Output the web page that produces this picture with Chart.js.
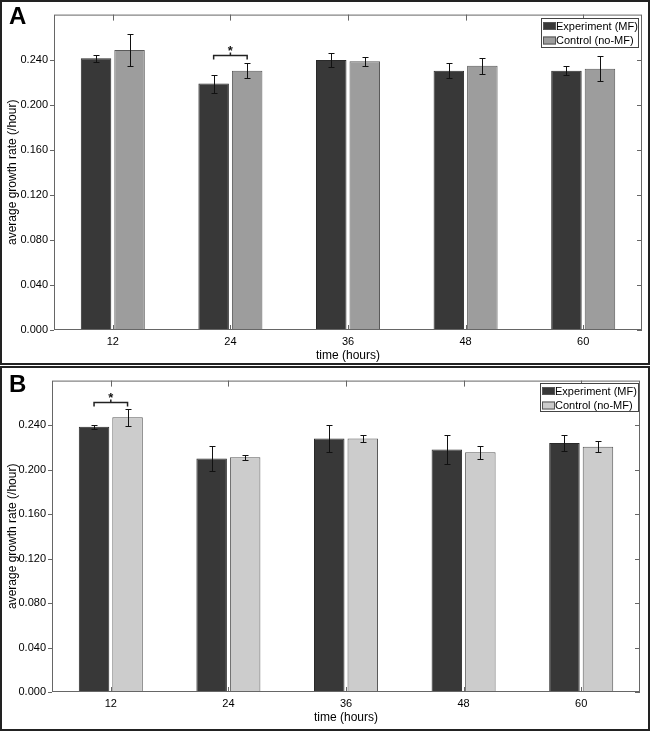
<!DOCTYPE html>
<html>
<head>
<meta charset="utf-8">
<script src="https://cdn.jsdelivr.net/npm/chart.js"></script>
<style>
  body { margin: 0; background: #fff; }
  .panel { position: absolute; left: 0; width: 646px; height: 361px; border: 2px solid #222; background: #fff; }
  #panelA { top: 0; }
  #panelB { top: 366px; }
</style>
</head>
<body>
<div class="panel" id="panelA"><canvas id="chartA" width="646" height="361"></canvas></div>
<div class="panel" id="panelB"><canvas id="chartB" width="646" height="361"></canvas></div>
<script>
// valeurs
const timeLabels = ['12', '24', '36', '48', '60'];
const yTicks = [0, 0.04, 0.08, 0.12, 0.16, 0.2, 0.24];

const expA = [0.2413, 0.2188, 0.2397, 0.2302, 0.2302];
const expAErr = [0.0031, 0.0080, 0.0062, 0.0066, 0.0038];
const ctlA = [0.2485, 0.2302, 0.2385, 0.2346, 0.2320];
const ctlAErr = [0.0140, 0.0069, 0.0038, 0.0069, 0.0109];

const expB = [0.2385, 0.2100, 0.2280, 0.2180, 0.2240];
const expBErr = [0.0017, 0.0116, 0.0120, 0.0130, 0.0070];
const ctlB = [0.2471, 0.2110, 0.2280, 0.2155, 0.2205];
const ctlBErr = [0.0077, 0.0020, 0.0030, 0.0060, 0.0050];

const FONT = '"Liberation Sans", Arial, sans-serif';

// dessine barres d'erreur, cadre, légende, titres
const panelPlugin = {
    id: 'panel',
    afterDatasetsDraw(chart, args, opts) {
        const ctx = chart.ctx;
        const { left, right, top, bottom } = chart.chartArea;
        const xs = chart.scales.x, ys = chart.scales.y;
        ctx.save();

        // barres d'erreur
        ctx.strokeStyle = '#111';
        ctx.lineWidth = 1;
        chart.data.datasets.forEach((ds, di) => {
            const meta = chart.getDatasetMeta(di);
            meta.data.forEach((bar, i) => {
                const v = ds.data[i], e = ds.errors[i];
                const y1 = Math.round(ys.getPixelForValue(v + e)) + 0.5;
                const y2 = Math.round(ys.getPixelForValue(v - e)) + 0.5;
                const x = Math.round(bar.x) + 0.5;
                ctx.beginPath();
                ctx.moveTo(x, y1); ctx.lineTo(x, y2);
                ctx.moveTo(x - 3, y1); ctx.lineTo(x + 3, y1);
                ctx.moveTo(x - 3, y2); ctx.lineTo(x + 3, y2);
                ctx.stroke();
            });
        });

        // crochet de significativité
        if (opts.sig) {
            const b0 = chart.getDatasetMeta(0).data[opts.sig.index];
            const b1 = chart.getDatasetMeta(1).data[opts.sig.index];
            const yb = Math.round(ys.getPixelForValue(opts.sig.value)) + 0.5;
            const xm = (b0.x + b1.x) / 2;
            ctx.strokeStyle = '#222';
            ctx.lineWidth = 1.5;
            ctx.beginPath();
            ctx.moveTo(b0.x, yb + 4); ctx.lineTo(b0.x, yb);
            ctx.lineTo(b1.x, yb); ctx.lineTo(b1.x, yb + 4);
            ctx.moveTo(xm, yb); ctx.lineTo(xm, yb - 3);
            ctx.stroke();
            ctx.fillStyle = '#111';
            ctx.font = 'bold 13px ' + FONT;
            ctx.textAlign = 'center';
            ctx.textBaseline = 'middle';
            ctx.fillText('*', xm, yb - 4);
        }

        // cadre et graduations
        ctx.strokeStyle = '#666';
        ctx.lineWidth = 1;
        ctx.strokeRect(left + 0.5, top + 0.5, right - left - 1, bottom - top - 1);
        ctx.beginPath();
        yTicks.forEach(v => {
            const y = Math.round(ys.getPixelForValue(v)) + 0.5;
            ctx.moveTo(left - 4, y); ctx.lineTo(left, y);
            ctx.moveTo(right - 5, y); ctx.lineTo(right, y);
        });
        timeLabels.forEach((l, i) => {
            const x = Math.round(xs.getPixelForValue(i)) + 0.5;
            ctx.moveTo(x, top); ctx.lineTo(x, top + 6);
            ctx.moveTo(x, bottom); ctx.lineTo(x, bottom - 5);
        });
        ctx.stroke();

        // légende
        const lg = opts.legend;
        ctx.fillStyle = '#fff';
        ctx.fillRect(lg.x, lg.y, lg.w, lg.h);
        ctx.strokeStyle = '#444';
        ctx.strokeRect(lg.x + 0.5, lg.y + 0.5, lg.w, lg.h);
        ctx.font = '11px ' + FONT;
        ctx.textAlign = 'left';
        ctx.textBaseline = 'middle';
        chart.data.datasets.forEach((ds, di) => {
            const cy = lg.y + 8 + di * 14.5;
            ctx.fillStyle = ds.backgroundColor;
            ctx.fillRect(lg.x + 2, cy - 4, 13, 8);
            ctx.strokeStyle = '#555';
            ctx.strokeRect(lg.x + 2.5, cy - 3.5, 12, 7);
            ctx.fillStyle = '#000';
            ctx.fillText(ds.label, lg.x + 15, cy + 0.5);
        });

        // titres des axes
        ctx.fillStyle = '#000';
        ctx.font = '12px ' + FONT;
        ctx.textAlign = 'center';
        ctx.textBaseline = 'middle';
        ctx.fillText('time (hours)', (left + right) / 2, opts.xTitleY);
        ctx.save();
        ctx.translate(11, (top + bottom) / 2);
        ctx.rotate(-Math.PI / 2);
        ctx.fillText('average growth rate (/hour)', 0, 0);
        ctx.restore();

        // lettre du panneau
        ctx.font = 'bold 24px ' + FONT;
        ctx.textAlign = 'left';
        ctx.textBaseline = 'alphabetic';
        ctx.fillText(opts.letter, 7, opts.letterY);

        ctx.restore();
    }
};

function makeChart(id, exp, expErr, ctl, ctlErr, ctlColor, cfg) {
    return new Chart(document.getElementById(id), {
        type: 'bar',
        data: {
            labels: timeLabels,
            datasets: [
                { label: 'Experiment (MF)', data: exp, errors: expErr, backgroundColor: '#383838', borderColor: '#2a2a2a', borderWidth: 1 },
                { label: 'Control (no-MF)', data: ctl, errors: ctlErr, backgroundColor: ctlColor, borderColor: '#5a5a5a', borderWidth: 1 }
            ]
        },
        options: {
            responsive: false,
            animation: false,
            datasets: { bar: { categoryPercentage: 0.57, barPercentage: 0.91 } },
            layout: { padding: { top: cfg.top, right: cfg.right, left: 0, bottom: 0 } },
            plugins: {
                legend: { display: false },
                tooltip: { enabled: false },
                panel: { letter: cfg.letter, letterY: cfg.letterY, xTitleY: cfg.xTitleY, legend: cfg.legend, sig: cfg.sig }
            },
            scales: {
                x: {
                    grid: { display: false, drawTicks: false },
                    border: { display: false },
                    ticks: { color: '#000', font: { family: FONT, size: 11 }, padding: 5 },
                    afterFit(s) { s.height = cfg.xh; }
                },
                y: {
                    min: 0, max: 0.28,
                    grid: { display: false, drawTicks: false },
                    border: { display: false },
                    ticks: { color: '#000', font: { family: FONT, size: 11 }, padding: 6, callback: v => v.toFixed(3) },
                    afterBuildTicks(s) { s.ticks = yTicks.map(v => ({ value: v })); },
                    afterFit(s) { s.width = cfg.yw; }
                }
            }
        },
        plugins: [panelPlugin]
    });
}

makeChart('chartA', expA, expAErr, ctlA, ctlAErr, '#9d9d9d', {
    top: 11, right: 6, xh: 33, yw: 52, letter: 'A', letterY: 22, xTitleY: 354,
    legend: { x: 539, y: 16, w: 97, h: 29 },
    sig: { index: 1, value: 0.2444 }
});
makeChart('chartB', expB, expBErr, ctlB, ctlBErr, '#cccccc', {
    top: 7, right: 8, xh: 37, yw: 50, letter: 'B', letterY: 24, xTitleY: 350,
    legend: { x: 538, y: 15, w: 98, h: 28 },
    sig: { index: 0, value: 0.2609 }
});
</script>
</body>
</html>
